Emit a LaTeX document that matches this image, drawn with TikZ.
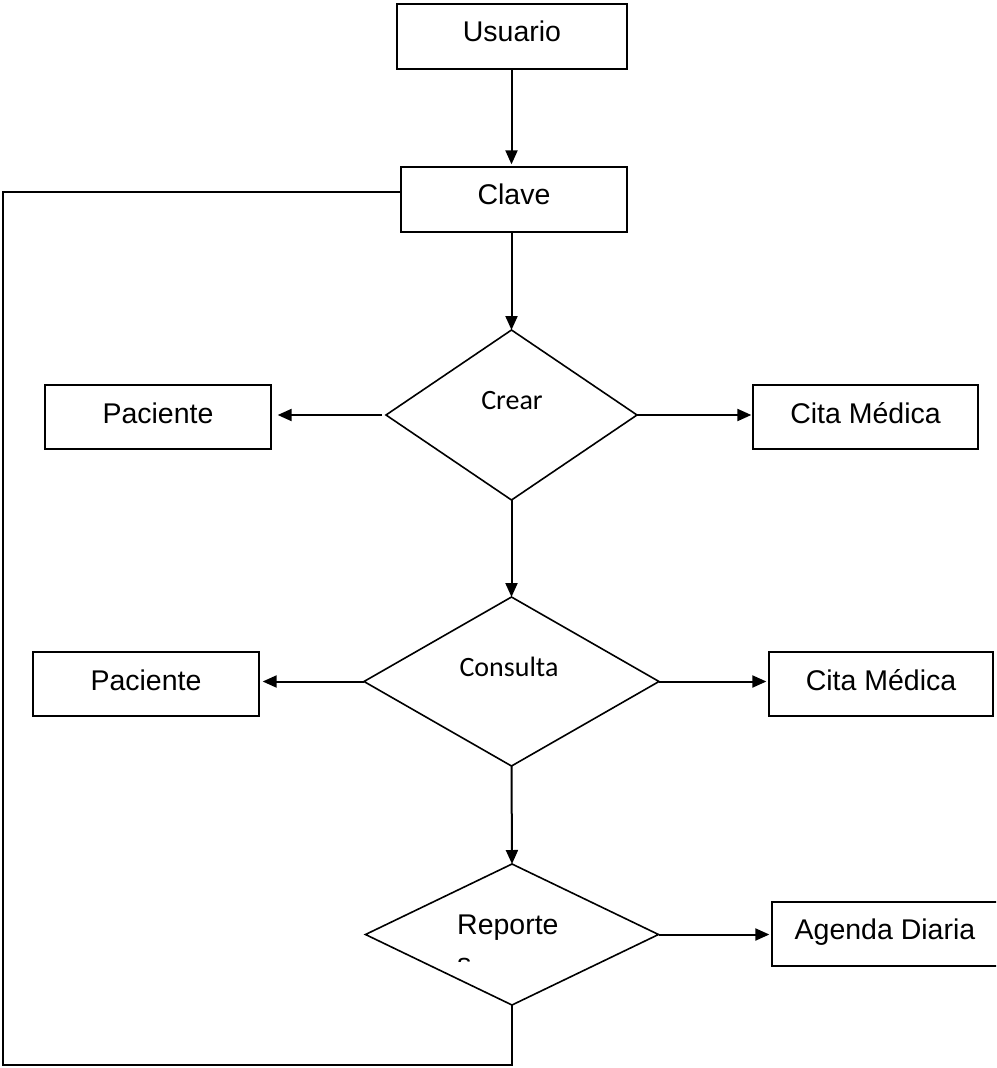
\documentclass[tikz,border=0pt]{standalone}
\usepackage{fontspec}
\setmainfont{Liberation Sans}
\newfontfamily\calfont{Carlito}
\usetikzlibrary{shapes.geometric,arrows.meta}

\tikzset{
  caja/.style={draw, line width=1.3pt, inner sep=0pt, anchor=base, font=\fontsize{28.5}{34}\selectfont},
  rombo/.style={draw, diamond, line width=1.6pt, inner sep=0pt, outer sep=0pt},
  rtexto/.style={anchor=base, font=\calfont\fontsize{28}{33}\selectfont},
  flecha/.style={line width=2pt, -{Triangle[length=14pt,width=12pt]}},
  linea/.style={line width=2pt},
}

\begin{document}
\begin{tikzpicture}[x=1pt,y=-1pt]
\clip (0,0) rectangle (996,1068);
% cajas
\node[caja, minimum width=230pt, text height=37pt, text depth=28pt] (usuario) at (512,41) {Usuario};
\node[caja, minimum width=226pt, text height=37pt, text depth=28pt] (clave) at (514,204) {Clave};
\node[caja, minimum width=226pt, text height=38pt, text depth=26pt] (pac1) at (158,423) {Paciente};
\node[caja, minimum width=225pt, text height=38pt, text depth=26pt] (cita1) at (865.5,423) {Cita Médica};
\node[caja, minimum width=226pt, text height=38pt, text depth=26pt] (pac2) at (146,690) {Paciente};
\node[caja, minimum width=224pt, text height=38pt, text depth=26pt] (cita2) at (881,690) {Cita Médica};
\node[caja, minimum width=226pt, text height=37pt, text depth=27pt] (agenda) at (885,939) {Agenda Diaria};
% rombos
\node[rombo, minimum width=251pt, minimum height=170pt] (crear) at (511.5,415) {};
\node[rombo, minimum width=295pt, minimum height=169pt] (consulta) at (511.5,681.5) {};
\node[rombo, minimum width=293pt, minimum height=141pt] (reporte) at (512,934.5) {};
\node[rtexto] (crearT) at (512,409) {Crear};
\node[rtexto] (consultaT) at (509,676) {Consulta};
\node[anchor=base west, inner sep=0pt, font=\fontsize{28.5}{34}\selectfont] (reporteT) at (457,934) {Reporte};
\begin{scope}
\clip (440,945) rectangle (580,961);
\node[anchor=base west, inner sep=0pt, font=\fontsize{28.5}{34}\selectfont] (reporteS) at (457,973) {s};
\end{scope}
% conectores
\draw[flecha, shorten >=2pt] (usuario.south -| crear.north) -- (clave.north -| crear.north);
\draw[flecha] (clave.south -| crear.north) -- (crear.north);
\draw[flecha, shorten >=6pt] ([xshift=-4pt]crear.west) -- (crear.west -| pac1.east);
\draw[flecha, shorten >=1pt] (crear.east) -- (crear.east -| cita1.west);
\draw[flecha] (crear.south) -- (consulta.north);
\draw[flecha, shorten >=3pt] (consulta.west) -- (consulta.west -| pac2.east);
\draw[flecha, shorten >=2pt] (consulta.east) -- (consulta.east -| cita2.west);
\draw[flecha] (consulta.south) -- (reporte.north);
\draw[flecha, shorten >=2pt] (reporte.east) -- (reporte.east -| agenda.west);
\coordinate (esquina) at (3,1065);
\draw[linea] (reporte.south) |- (esquina) |- ([yshift=7.5pt]clave.west);
\end{tikzpicture}
\end{document}
